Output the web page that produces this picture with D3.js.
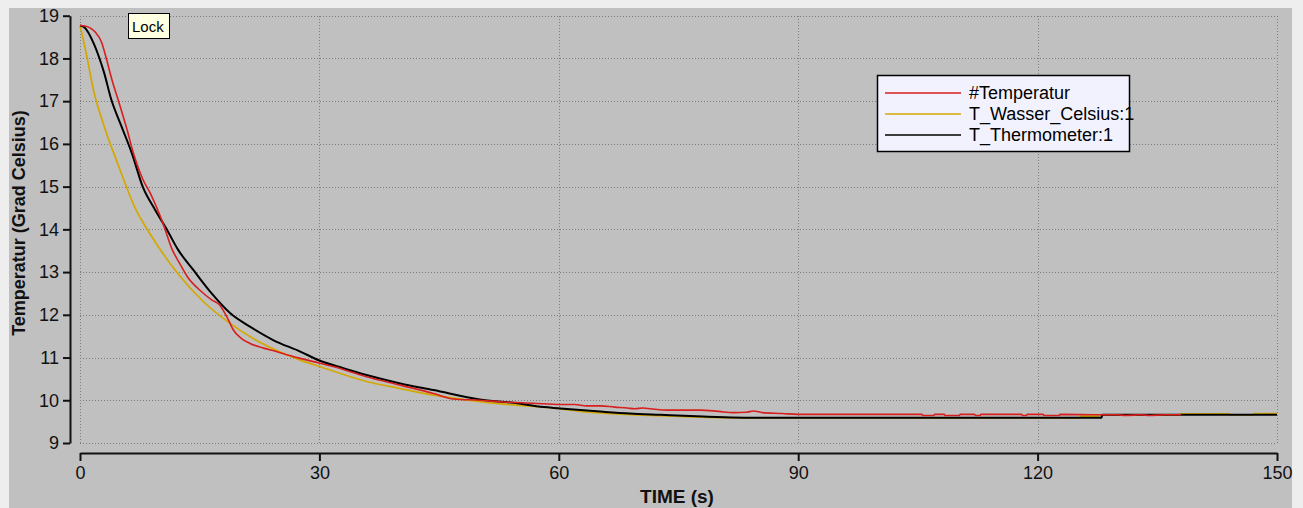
<!DOCTYPE html>
<html>
<head>
<meta charset="utf-8">
<script src="https://cdn.jsdelivr.net/npm/d3@7"></script>
<style>
  html, body { margin: 0; padding: 0; background: #eeeeee; }
  svg { display: block; font-family: "Liberation Sans", Arial, sans-serif; }
</style>
</head>
<body>
<script>
// #Temperatur (measured, red)
const timeRed = [0, 0.6, 1.2, 1.9, 2.7, 3.3, 4.0, 4.8, 5.9, 6.7, 7.9, 8.8, 10.4, 11.5, 12.5, 13.5, 15.0, 16.5, 17.5, 18.6, 19.2, 20.2, 21.3, 23.0, 24.6, 26.0, 27.6, 30, 33, 35.9, 40, 44.3, 46.8, 50.1, 53, 56.8, 60.2, 62, 63.5, 65.2, 67, 68.6, 69.5, 70.5, 72, 73.5, 75, 77.7, 80, 81.9, 83.5, 84.4, 85.5, 88, 90, 95, 100, 105.5, 105.6, 107, 107.1, 108.3, 108.4, 110.2, 110.3, 112.1, 112.2, 112.8, 112.9, 118, 118.1, 118.6, 118.7, 120.7, 120.8, 122.7, 122.8, 128, 130, 131, 133, 134, 136, 138];
const tempRed = [18.77, 18.76, 18.72, 18.62, 18.38, 18.0, 17.5, 17.02, 16.33, 15.78, 15.16, 14.85, 14.14, 13.55, 13.2, 12.88, 12.58, 12.35, 12.23, 11.88, 11.65, 11.45, 11.33, 11.22, 11.14, 11.06, 10.98, 10.87, 10.72, 10.55, 10.36, 10.16, 10.03, 10.0, 9.96, 9.93, 9.9, 9.9, 9.87, 9.87, 9.84, 9.82, 9.8, 9.82, 9.79, 9.77, 9.77, 9.77, 9.74, 9.71, 9.72, 9.75, 9.71, 9.69, 9.67, 9.67, 9.67, 9.67, 9.645, 9.645, 9.67, 9.67, 9.645, 9.645, 9.67, 9.67, 9.645, 9.645, 9.67, 9.67, 9.645, 9.645, 9.67, 9.67, 9.645, 9.645, 9.67, 9.66, 9.66, 9.645, 9.66, 9.645, 9.66, 9.66];

// T_Wasser_Celsius:1 (yellow)
const timeYellow = [0, 0.8, 1.7, 2.7, 3.5, 4.5, 5.4, 6.9, 8.35, 9.8, 12.1, 15.5, 18.8, 22.6, 27.6, 30, 35.9, 40, 44.3, 50.1, 54.3, 60.2, 62.7, 66, 69.5, 75, 82, 90, 100, 110, 120, 125.3, 125.4, 127.6, 127.7, 137.8, 137.9, 144, 144.1, 147, 147.1, 150];
const tempYellow = [18.77, 18.1, 17.25, 16.6, 16.15, 15.65, 15.2, 14.5, 14.02, 13.6, 13.0, 12.3, 11.8, 11.35, 10.94, 10.79, 10.44, 10.28, 10.12, 9.97, 9.89, 9.8, 9.74, 9.69, 9.66, 9.62, 9.59, 9.59, 9.59, 9.59, 9.59, 9.59, 9.63, 9.63, 9.66, 9.66, 9.68, 9.68, 9.66, 9.66, 9.69, 9.69];

// T_Thermometer:1 (black)
const timeBlack = [0, 0.6, 1.7, 2.5, 3.0, 3.9, 5.2, 6.5, 7.9, 9.4, 10.9, 12.3, 14.2, 16.5, 18.8, 21.5, 24.2, 27.6, 30, 33, 35.9, 40, 44.3, 50.1, 54.3, 58.1, 60.2, 62.7, 65.6, 68.9, 72.7, 78.1, 85.2, 90, 100, 110, 120, 128, 128.1, 140, 150];
const tempBlack = [18.77, 18.72, 18.36, 17.97, 17.68, 17.05, 16.41, 15.78, 14.98, 14.46, 13.99, 13.52, 13.05, 12.5, 12.04, 11.7, 11.41, 11.14, 10.93, 10.75, 10.59, 10.4, 10.24, 10.02, 9.94, 9.84, 9.81, 9.77, 9.73, 9.69, 9.66, 9.62, 9.59, 9.59, 9.59, 9.59, 9.59, 9.59, 9.66, 9.66, 9.66];

const seriesNames = ["#Temperatur", "T_Wasser_Celsius:1", "T_Thermometer:1"];
const seriesColors = ["#d81e1e", "#d4a800", "#000000"];
const xTicks = [0, 30, 60, 90, 120, 150];
const yTicks = [9, 10, 11, 12, 13, 14, 15, 16, 17, 18, 19];

const W = 1303, H = 508;

const svg = d3.select("body").append("svg")
  .attr("width", W)
  .attr("height", H);

// grey panel
svg.append("rect")
  .attr("x", 9).attr("y", 8)
  .attr("width", 1283).attr("height", H - 8)
  .attr("fill", "#c0c0c0");

const x = d3.scaleLinear().domain([0, 150]).range([80, 1277]);
const y = d3.scaleLinear().domain([9, 19]).range([443, 15.7]);

// dotted grid
const grid = svg.append("g")
  .attr("stroke", "#7c7c7c")
  .attr("stroke-width", 1)
  .attr("stroke-dasharray", "1,2")
  .attr("shape-rendering", "crispEdges");

grid.selectAll("line.h").data(yTicks).join("line")
  .attr("class", "h")
  .attr("x1", x(0)).attr("x2", x(150))
  .attr("y1", d => Math.round(y(d)) + 0.5)
  .attr("y2", d => Math.round(y(d)) + 0.5);

grid.selectAll("line.v").data(xTicks).join("line")
  .attr("class", "v")
  .attr("y1", y(19)).attr("y2", y(9))
  .attr("x1", d => Math.round(x(d)) + 0.5)
  .attr("x2", d => Math.round(x(d)) + 0.5);

// axes
const yAxis = svg.append("g")
  .attr("transform", "translate(70,0)")
  .call(d3.axisLeft(y).tickValues(yTicks).tickSize(7).tickSizeOuter(0).tickPadding(4));

const xAxis = svg.append("g")
  .attr("transform", "translate(0,453)")
  .call(d3.axisBottom(x).tickValues(xTicks).tickSize(8).tickSizeOuter(0).tickPadding(5));

[xAxis, yAxis].forEach(g => {
  g.select(".domain").attr("stroke", "#111").attr("stroke-width", 2);
  g.selectAll(".tick line").attr("stroke", "#111").attr("stroke-width", 2);
  g.selectAll(".tick text")
    .attr("fill", "#111")
    .style("font-size", "18px")
    .style("font-family", "'Liberation Sans', Arial, sans-serif");
});

// axis titles
svg.append("text")
  .attr("x", 677)
  .attr("y", 503)
  .attr("text-anchor", "middle")
  .attr("font-size", "19px")
  .attr("font-weight", "bold")
  .attr("fill", "#111")
  .text("TIME (s)");

svg.append("text")
  .attr("transform", "translate(25,223) rotate(-90)")
  .attr("text-anchor", "middle")
  .attr("font-size", "18px")
  .attr("font-weight", "bold")
  .attr("fill", "#111")
  .text("Temperatur (Grad Celsius)");

// curves
const line = d3.line()
  .x(d => x(d[0]))
  .y(d => y(d[1]))
  .curve(d3.curveMonotoneX);

const series = [
  { times: timeYellow, temps: tempYellow, color: seriesColors[1], width: 1.7 },
  { times: timeBlack, temps: tempBlack, color: seriesColors[2], width: 2 },
  { times: timeRed, temps: tempRed, color: seriesColors[0], width: 1.6 }
];

series.forEach(s => {
  svg.append("path")
    .datum(s.times.map((t, i) => [t, s.temps[i]]))
    .attr("fill", "none")
    .attr("stroke", s.color)
    .attr("stroke-width", s.width)
    .attr("stroke-linejoin", "round")
    .attr("d", line);
});

// "Lock" tooltip box
svg.append("rect")
  .attr("x", 128.5).attr("y", 13.5)
  .attr("width", 41).attr("height", 25)
  .attr("fill", "#ffffe1")
  .attr("stroke", "#000")
  .attr("stroke-width", 1);

svg.append("text")
  .attr("x", 132)
  .attr("y", 32)
  .attr("font-size", "15px")
  .attr("fill", "#000")
  .text("Lock");

// legend
const legend = svg.append("g");

legend.append("rect")
  .attr("x", 877.5).attr("y", 75.5)
  .attr("width", 252).attr("height", 76)
  .attr("fill", "#f2f2ff")
  .attr("stroke", "#000")
  .attr("stroke-width", 1.5);

seriesNames.forEach((name, i) => {
  const ly = 93 + i * 21;
  legend.append("line")
    .attr("x1", 885).attr("x2", 961)
    .attr("y1", ly).attr("y2", ly)
    .attr("stroke", seriesColors[i])
    .attr("stroke-width", 1.6);

  legend.append("text")
    .attr("x", 969)
    .attr("y", ly)
    .attr("dy", "0.35em")
    .attr("font-size", "18px")
    .attr("fill", "#000")
    .text(name);
});
</script>
</body>
</html>
